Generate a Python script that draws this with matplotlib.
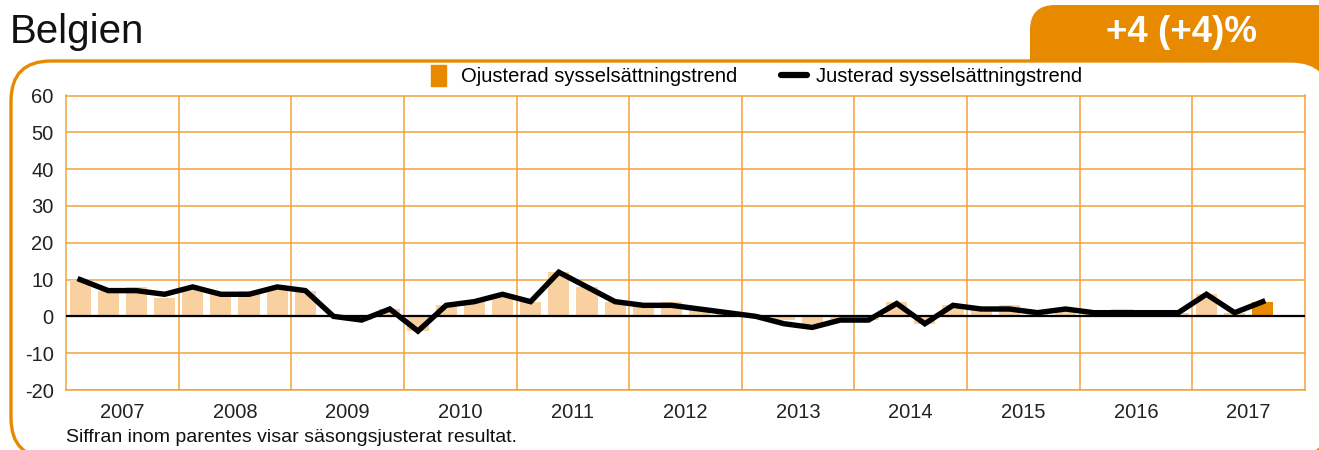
import numpy as np
import matplotlib
matplotlib.use("Agg")
import matplotlib.pyplot as plt
from matplotlib.patches import FancyBboxPatch, Patch, Rectangle
from matplotlib.lines import Line2D
from matplotlib.legend_handler import HandlerPatch

plt.rcParams['font.family'] = ['Liberation Sans', 'DejaVu Sans']

# Kvartalsdata 2007 Q1 - 2017 Q3
years = [2007, 2008, 2009, 2010, 2011, 2012, 2013, 2014, 2015, 2016, 2017]
ojusterad = [10, 7, 8, 5,
             8, 6, 7, 8,
             7, 0, -1, 2,
             -4, 3, 4, 6,
             4, 12, 8, 4,
             3, 4, 2, 1,
             0, -1, -2, -1,
             -1, 4, -2, 3,
             2, 3, 1, 2,
             1, 2, 1, 1,
             6, 1, 4]
justerad = [10, 7, 7, 6,
            8, 6, 6, 8,
            7, 0, -1, 2,
            -4, 3, 4, 6,
            4, 12, 8, 4,
            3, 3, 2, 1,
            0, -2, -3, -1,
            -1, 3.5, -2, 3,
            2, 2, 1, 2,
            1, 1, 1, 1,
            6, 1, 4]
yticks = [-20, -10, 0, 10, 20, 30, 40, 50, 60]
title = "Belgien"
badge = "+4 (+4)%"
footnote = "Siffran inom parentes visar säsongsjusterat resultat."

orange = '#E88A00'
grid_orange = '#F0A33A'
peach = '#F9D1A0'

W, H = 1319, 450
fig = plt.figure(figsize=(W / 100, H / 100), dpi=100)

# bakgrund: flik och rundad ram i pixelkoordinater
bg = fig.add_axes([0, 0, 1, 1], zorder=0)
bg.set_xlim(0, W)
bg.set_ylim(H, 0)
bg.axis('off')
bg.add_patch(FancyBboxPatch((1030, 5), 400, 120, boxstyle="round,pad=0,rounding_size=25",
                            fc=orange, ec='none'))
bg.add_patch(FancyBboxPatch((11, 61), 1320, 397, boxstyle="round,pad=0,rounding_size=40",
                            fc='white', ec=orange, lw=2.4))
bg.text(10, 32, title, fontsize=29, color='#111111', va='center', ha='left')
bg.text(1181, 33, badge, fontsize=26.5, color='white', fontweight='bold', va='center', ha='center')
bg.text(66, 437, footnote, fontsize=14, color='#111111', va='center', ha='left')

# diagram
ax = fig.add_axes([66 / W, 1 - 390 / H, 1239 / W, 294.5 / H], zorder=1)
ax.set_facecolor('none')
n = len(ojusterad)
x = np.arange(n) + 0.5
colors = [peach] * (n - 1) + [orange]
ax.bar(x, ojusterad, width=0.75, color=colors, zorder=2)
ax.plot(x, justerad, color='black', lw=3.9, solid_joinstyle='miter', zorder=4)
ax.axhline(0, color='black', lw=1.6, zorder=3)

ax.set_xlim(0, 4 * len(years))
ax.set_ylim(-20, 60)
ax.set_yticks(yticks)
ax.set_yticklabels([str(t) for t in yticks], fontsize=14.5, color='#222222')
ax.set_xticks([4 * i + 2 for i in range(len(years))])
ax.set_xticklabels([str(y) for y in years], fontsize=14.5, color='#222222')
ax.set_xticks([4 * i for i in range(1, len(years))], minor=True)
ax.tick_params(axis='both', which='both', length=0)
ax.tick_params(axis='y', pad=9)
ax.tick_params(axis='x', pad=9.5)
ax.grid(True, axis='y', which='major', color=grid_orange, lw=1.1, zorder=1)
ax.grid(True, axis='x', which='minor', color=grid_orange, lw=1.1, zorder=1)
for s in ax.spines.values():
    s.set_color(grid_orange)
    s.set_linewidth(1.1)


def square_patch(legend, orig_handle, xdescent, ydescent, width, height, fontsize):
    return Rectangle((xdescent + width * 0.2, ydescent - height * 0.25), width * 0.6, height * 1.5)


handles = [Patch(color=orange), Line2D([], [], color='black', lw=4.5, solid_capstyle='round')]
labels = ["Ojusterad sysselsättningstrend", "Justerad sysselsättningstrend"]
fig.legend(handles, labels, loc='center', bbox_to_anchor=(754 / W, 1 - 77 / H),
           ncol=2, frameon=False, fontsize=14.5, handlelength=1.3, handletextpad=0.45,
           columnspacing=2.2, handler_map={Patch: HandlerPatch(patch_func=square_patch)})

fig.savefig('out.png', dpi=100)
